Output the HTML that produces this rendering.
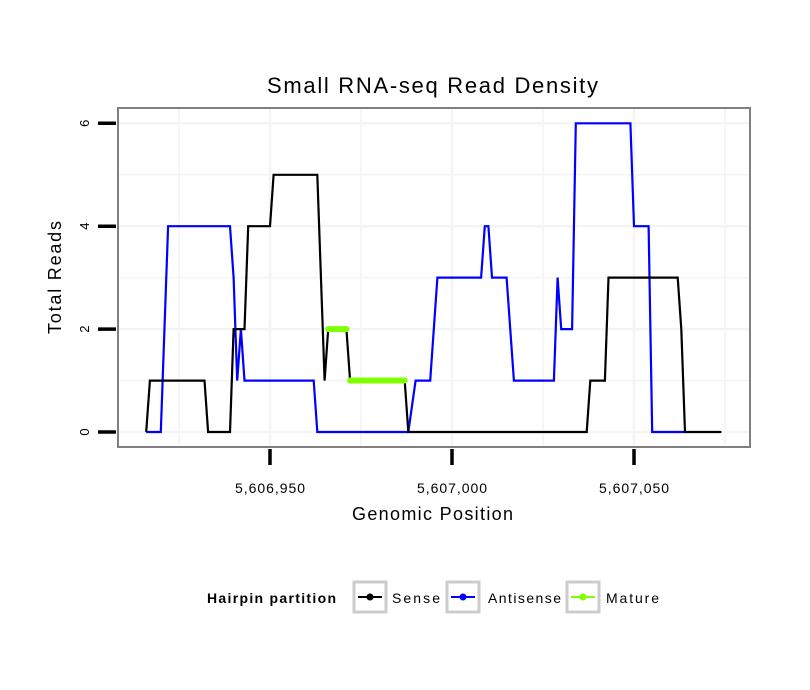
<!DOCTYPE html>
<html><head><meta charset="utf-8"><style>
body{margin:0;background:#fff;}
svg{display:block;font-family:"Liberation Sans",sans-serif;}
</style></head><body>
<svg id="chart" width="810" height="690">
<rect width="810" height="690" fill="#fff"/>
<text x="267" y="93" font-size="22" textLength="331" lengthAdjust="spacing">Small RNA-seq Read Density</text>
<rect x="118" y="108" width="632" height="339" fill="#fff"/>
<g id="grid"></g>
<g id="series"></g>
<rect x="118" y="108" width="632" height="339" fill="none" stroke="#808080" stroke-width="2"/>
<g id="axes"></g>
<text x="352" y="520" font-size="18" textLength="161" lengthAdjust="spacing">Genomic Position</text>
<text transform="translate(61,334) rotate(-90)" font-size="18" textLength="113" lengthAdjust="spacing">Total Reads</text>
<g>
<text x="207" y="603" font-size="14" font-weight="bold" textLength="129" lengthAdjust="spacing">Hairpin partition</text>
<g>
<rect x="354" y="582" width="32" height="30" fill="#fff" stroke="#ccc" stroke-width="3"/>
<line x1="358" y1="597" x2="382" y2="597" stroke="#000" stroke-width="2"/><circle cx="370" cy="597" r="3.5" fill="#000"/>
<text x="392" y="603" font-size="14" textLength="48" lengthAdjust="spacing">Sense</text></g>
<g>
<rect x="447" y="582" width="32" height="30" fill="#fff" stroke="#ccc" stroke-width="3"/>
<line x1="451" y1="597" x2="475" y2="597" stroke="#00f" stroke-width="2"/><circle cx="463" cy="597" r="3.5" fill="#00f"/>
<text x="488" y="603" font-size="14" textLength="73" lengthAdjust="spacing">Antisense</text></g>
<g>
<rect x="567" y="582" width="32" height="30" fill="#fff" stroke="#ccc" stroke-width="3"/>
<line x1="571" y1="597" x2="595" y2="597" stroke="#7fff00" stroke-width="2"/><circle cx="583" cy="597" r="3.5" fill="#7fff00"/>
<text x="606" y="603" font-size="14" textLength="53" lengthAdjust="spacing">Mature</text></g>
</g>
</svg>
<script>
const xTicks = [5606950, 5607000, 5607050];
const xTickLabels = ["5,606,950", "5,607,000", "5,607,050"];
const yTicks = [0, 2, 4, 6];
const senseX = [5606916,5606917,5606932,5606933,5606939,5606940,5606943,5606944,5606950,5606951,5606963,5606965,5606966,5606971,5606972,5606987,5606988,5607037,5607038,5607042,5607043,5607062,5607063,5607064,5607074];
const senseY = [0,1,1,0,0,2,2,4,4,5,5,1,2,2,1,1,0,0,1,1,3,3,2,0,0];
const antiX = [5606916,5606920,5606922,5606939,5606940,5606941,5606942,5606943,5606962,5606963,5606988,5606990,5606994,5606996,5607008,5607009,5607010,5607011,5607015,5607017,5607028,5607029,5607030,5607033,5607034,5607049,5607050,5607054,5607055,5607064];
const antiY = [0,0,4,4,3,1,2,1,1,0,0,1,1,3,3,4,4,3,3,1,1,3,2,2,6,6,4,4,0,0];
const matureSegments = [[5606966,5606971,2],[5606972,5606987,1]];

const NS='http://www.w3.org/2000/svg';
const sx = v => 270 + (v - 5606950) * 3.64;
const sy = v => 432 - v * 51.45;
function mk(tag, attrs, parent){const e=document.createElementNS(NS,tag);for(const k in attrs)e.setAttribute(k,attrs[k]);parent.appendChild(e);return e;}
const grid=document.getElementById('grid'), series=document.getElementById('series'), axes=document.getElementById('axes');
for(let v=0; v<=6; v++){
  const g=mk('line',{x1:118,x2:750,y1:sy(v),y2:sy(v),stroke:'#f4f4f4','stroke-width':v%2?1.5:2.5},grid);
  
  
}
for(let v=5606925; v<=5607075; v+=25){
  const g=mk('line',{x1:sx(v),x2:sx(v),y1:108,y2:447,stroke:'#f4f4f4','stroke-width':(v%50)?1.5:2.5},grid);
  
  
}
function path(xs,ys,color,name){
  const d=xs.map((x,i)=>(i?'L':'M')+sx(x).toFixed(1)+','+sy(ys[i]).toFixed(1)).join('');
  const p=mk('path',{d:d,fill:'none',stroke:color,'stroke-width':2.2,'stroke-linejoin':'miter'},series);
  
  
}
path(antiX,antiY,'#0000ff','antisense-line');
path(senseX,senseY,'#000000','sense-line');
matureSegments.forEach(s=>{
  const l=mk('line',{x1:sx(s[0]),x2:sx(s[1]),y1:sy(s[2]),y2:sy(s[2]),stroke:'#7fff00','stroke-width':6,'stroke-linecap':'round'},series);
  
  
});
yTicks.forEach(v=>{
  const t=mk('line',{x1:98,x2:116,y1:sy(v),y2:sy(v),stroke:'#000','stroke-width':3.5},axes);
  
  
  const tx=mk('text',{transform:`translate(89,${sy(v)}) rotate(-90)`,'font-size':13,'text-anchor':'middle'},axes);
  tx.textContent=v;
  
  
});
xTicks.forEach((v,i)=>{
  const t=mk('line',{x1:sx(v),x2:sx(v),y1:449,y2:465,stroke:'#000','stroke-width':3.5},axes);
  
  
  const tx=mk('text',{x:sx(v)-35,y:493,'font-size':14,textLength:70,lengthAdjust:'spacing'},axes);
  tx.textContent=xTickLabels[i];
  
  
});
</script>
</body></html>
